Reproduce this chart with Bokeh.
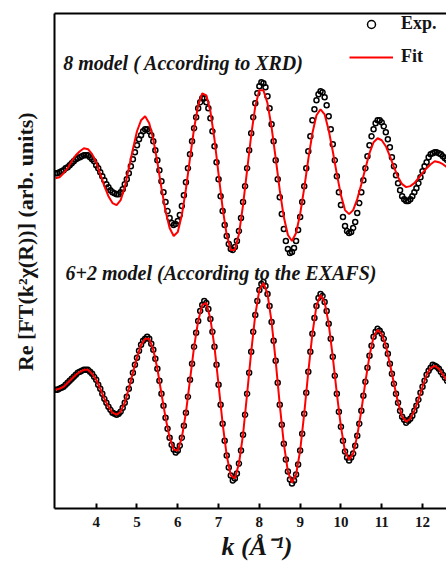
import numpy as np
from bokeh.plotting import figure
from bokeh.models import Label, LinearAxis, Legend, LegendItem, Range1d, FixedTicker
from bokeh.embed import file_html
from bokeh.resources import INLINE

# ---- data (k from 3.0 to 12.6 Å^-1) ----
# upper panel: "8 model (According to XRD)"  (Exp. sampled every 0.05, Fit every 0.1)
exp_8 = [3.36, 3.36, 3.37, 3.38, 3.39, 3.41, 3.42, 3.44, 3.46, 3.48, 3.50, 3.51, 3.52, 3.53, 3.54,
         3.54, 3.54, 3.52, 3.50, 3.48, 3.44, 3.41, 3.37, 3.33, 3.29, 3.25, 3.22, 3.19, 3.17, 3.16, 3.15,
         3.15, 3.17, 3.20, 3.25, 3.30, 3.36, 3.43, 3.50, 3.57, 3.64, 3.70, 3.74, 3.78, 3.80,
         3.80, 3.78, 3.74, 3.68, 3.59, 3.49, 3.39, 3.28, 3.17, 3.07, 2.98, 2.91, 2.86, 2.84,
         2.85, 2.88, 2.94, 3.03, 3.14, 3.27, 3.41, 3.55, 3.68, 3.81, 3.92, 4.01, 4.07, 4.11,
         4.11, 4.07, 4.01, 3.91, 3.78, 3.63, 3.47, 3.30, 3.13, 2.98, 2.84, 2.73, 2.65, 2.60,
         2.59, 2.62, 2.68, 2.78, 2.91, 3.07, 3.23, 3.41, 3.59, 3.76, 3.92, 4.06, 4.16, 4.23, 4.27,
         4.26, 4.22, 4.13, 4.01, 3.85, 3.68, 3.49, 3.30, 3.12, 2.95, 2.80, 2.68, 2.60, 2.56,
         2.57, 2.61, 2.68, 2.79, 2.92, 3.07, 3.23, 3.41, 3.58, 3.73, 3.89, 4.00, 4.09, 4.15, 4.18,
         4.17, 4.12, 4.04, 3.93, 3.80, 3.65, 3.49, 3.33, 3.17, 3.04, 2.92, 2.83, 2.78, 2.76,
         2.77, 2.81, 2.87, 2.96, 3.06, 3.17, 3.29, 3.41, 3.53, 3.64, 3.73, 3.80, 3.86, 3.89,
         3.89, 3.87, 3.83, 3.77, 3.70, 3.62, 3.52, 3.43, 3.34, 3.26, 3.19, 3.13, 3.10, 3.08,
         3.08, 3.10, 3.13, 3.17, 3.21, 3.26, 3.32, 3.38, 3.43, 3.47, 3.52, 3.55, 3.56, 3.57,
         3.57, 3.56, 3.55, 3.53, 3.51, 3.49]

fit_8 = [3.31, 3.32, 3.36, 3.41, 3.48, 3.54, 3.58, 3.61,
         3.60, 3.55, 3.47, 3.35, 3.23, 3.13, 3.06,
         3.04, 3.09, 3.22, 3.41, 3.60, 3.78, 3.89,
         3.93, 3.86, 3.70, 3.47, 3.21, 2.98, 2.81, 2.73,
         2.77, 2.94, 3.20, 3.51, 3.81, 4.04, 4.16,
         4.14, 3.98, 3.70, 3.35, 3.01, 2.74, 2.59,
         2.59, 2.75, 3.04, 3.39, 3.74, 4.03, 4.19,
         4.19, 4.06, 3.82, 3.51, 3.19, 2.92, 2.74,
         2.68, 2.76, 2.95, 3.21, 3.50, 3.76, 3.94, 4.00,
         3.95, 3.79, 3.58, 3.35, 3.14, 2.99,
         2.95, 2.99, 3.10, 3.25, 3.41, 3.56, 3.67, 3.71,
         3.69, 3.63, 3.53, 3.42, 3.32, 3.25, 3.22,
         3.23, 3.26, 3.31, 3.36, 3.41, 3.45, 3.48,
         3.47, 3.45, 3.42]

# lower panel: "6+2 model (According to the EXAFS)"
exp_62 = [1.19, 1.19, 1.20, 1.21, 1.22, 1.24, 1.26, 1.28, 1.30, 1.32, 1.34, 1.36, 1.37, 1.38, 1.39, 1.39,
          1.39, 1.37, 1.35, 1.32, 1.29, 1.24, 1.20, 1.15, 1.10, 1.06, 1.02, 0.99, 0.96, 0.95, 0.94,
          0.95, 0.97, 1.01, 1.06, 1.12, 1.20, 1.28, 1.36, 1.44, 1.51, 1.58, 1.64, 1.68, 1.70, 1.72,
          1.70, 1.65, 1.59, 1.50, 1.40, 1.28, 1.15, 1.03, 0.91, 0.80, 0.71, 0.64, 0.59, 0.56,
          0.58, 0.63, 0.71, 0.83, 0.96, 1.12, 1.29, 1.45, 1.62, 1.76, 1.88, 1.98, 2.04, 2.08,
          2.06, 2.00, 1.90, 1.77, 1.62, 1.44, 1.24, 1.04, 0.85, 0.68, 0.53, 0.41, 0.33, 0.28,
          0.30, 0.35, 0.45, 0.58, 0.74, 0.94, 1.15, 1.36, 1.57, 1.77, 1.94, 2.08, 2.19, 2.25,
          2.27, 2.23, 2.15, 2.03, 1.87, 1.68, 1.48, 1.26, 1.04, 0.84, 0.65, 0.49, 0.37, 0.29, 0.25,
          0.28, 0.34, 0.44, 0.58, 0.75, 0.95, 1.16, 1.37, 1.57, 1.75, 1.91, 2.03, 2.11, 2.15,
          2.13, 2.07, 1.98, 1.85, 1.70, 1.52, 1.33, 1.15, 0.97, 0.82, 0.68, 0.57, 0.51, 0.48,
          0.51, 0.55, 0.63, 0.73, 0.85, 0.98, 1.13, 1.27, 1.41, 1.53, 1.63, 1.72, 1.77, 1.80,
          1.78, 1.75, 1.70, 1.63, 1.55, 1.45, 1.35, 1.25, 1.15, 1.06, 0.98, 0.92, 0.89, 0.86,
          0.88, 0.90, 0.93, 0.98, 1.03, 1.09, 1.16, 1.22, 1.28, 1.34, 1.38, 1.41, 1.44,
          1.43, 1.42, 1.40, 1.37, 1.34, 1.31, 1.28]

fit_62 = [1.19, 1.20, 1.22, 1.26, 1.30, 1.34, 1.37, 1.39, 1.39, 1.35,
          1.29, 1.20, 1.10, 1.02, 0.96, 0.94, 0.97, 1.06, 1.20, 1.36,
          1.51, 1.64, 1.70, 1.70, 1.59, 1.40, 1.15, 0.91, 0.71, 0.59,
          0.58, 0.71, 0.96, 1.29, 1.62, 1.88, 2.04, 2.06, 1.90, 1.62,
          1.24, 0.85, 0.53, 0.33, 0.30, 0.45, 0.74, 1.15, 1.57, 1.94,
          2.19, 2.26, 2.15, 1.87, 1.48, 1.04, 0.65, 0.37, 0.26, 0.34,
          0.58, 0.95, 1.37, 1.75, 2.03, 2.14, 2.07, 1.85, 1.52, 1.15,
          0.82, 0.57, 0.49, 0.55, 0.73, 0.98, 1.27, 1.53, 1.72, 1.79,
          1.75, 1.63, 1.45, 1.25, 1.06, 0.92, 0.87, 0.90, 0.98, 1.09,
          1.22, 1.34, 1.41, 1.43, 1.40, 1.34, 1.28]

k_ticks = [4, 5, 6, 7, 8, 9, 10, 11, 12]

# sampling grids of k (Å^-1)
k_exp_8 = np.round(np.linspace(3.0, 12.6, len(exp_8)), 3)
k_fit_8 = np.round(np.linspace(3.0, 12.6, len(fit_8)), 3)
k_exp_62 = np.round(np.linspace(3.0, 12.6, len(exp_62)), 3)
k_fit_62 = np.round(np.linspace(3.0, 12.6, len(fit_62)), 3)

FONT = "Liberation Serif"
RED = "#ff0000"
TXT = "#141414"
NB = "\u00a0"

p = figure(width=446, height=563, output_backend="svg", toolbar_location=None,
           x_range=Range1d(2.978, 12.588), y_range=Range1d(0, 4.96),
           min_border_left=54, min_border_right=0, min_border_top=13, min_border_bottom=54)
p.outline_line_color = None
p.grid.visible = False
p.background_fill_color = "white"

# experimental markers, then fit lines on top
r_exp8 = p.scatter(k_exp_8, exp_8, marker="circle", size=5, fill_color=None,
                   line_color="black", line_width=1.5)
r_exp62 = p.scatter(k_exp_62, exp_62, marker="circle", size=5, fill_color=None,
                    line_color="black", line_width=1.5)
r_fit8 = p.line(k_fit_8, fit_8, line_color=RED, line_width=2)
r_fit62 = p.line(k_fit_62, fit_62, line_color=RED, line_width=2)

# bottom axis
xa = p.xaxis[0]
xa.ticker = FixedTicker(ticks=k_ticks)
xa.axis_line_width = 2
xa.major_tick_in = 5
xa.major_tick_out = 0
xa.major_tick_line_width = 2
xa.minor_tick_line_color = None
xa.major_label_text_font = FONT
xa.major_label_text_font_style = "bold"
xa.major_label_text_font_size = "15px"
xa.major_label_text_color = TXT
xa.major_label_standoff = 8
xa.axis_label = NB * 2 + "k (\u00c5\u207b\u00b9)"
xa.axis_label_text_font = FONT
xa.axis_label_text_font_style = "bold italic"
xa.axis_label_text_font_size = "26px"
xa.axis_label_text_color = TXT
xa.axis_label_standoff = 2

# left axis: line and title only
ya = p.yaxis[0]
ya.ticker = FixedTicker(ticks=[])
ya.axis_line_width = 2
ya.major_tick_line_color = None
ya.minor_tick_line_color = None
ya.major_label_standoff = 0
ya.axis_label = NB * 7 + "Re [FT(k\u00b2\u03c7(R))] (arb. units)"
ya.axis_label_text_font = FONT
ya.axis_label_text_font_style = "bold"
ya.axis_label_text_font_size = "22px"
ya.axis_label_text_color = TXT
ya.axis_label_standoff = 17

# top frame line
top = LinearAxis(ticker=FixedTicker(ticks=[]), axis_line_width=2, major_tick_line_color=None,
                 minor_tick_line_color=None, major_label_standoff=0,
                 major_tick_in=0, major_tick_out=0)
p.add_layout(top, "above")

# legend
legend = Legend(items=[LegendItem(label="Exp.", renderers=[r_exp8]),
                       LegendItem(label="Fit", renderers=[r_fit8])],
                location="top_right", border_line_color=None, background_fill_alpha=0,
                label_text_font=FONT, label_text_font_style="bold", label_text_font_size="18px",
                label_text_color=TXT, glyph_width=44, glyph_height=20, label_height=20,
                label_width=45, label_standoff=8, spacing=12, padding=2, margin=0)
p.add_layout(legend)

# panel annotations
p.add_layout(Label(x=3.19, y=4.46, text="8 model ( According to XRD)", text_font=FONT,
                   text_font_style="bold italic", text_font_size="20px", text_color=TXT,
                   text_baseline="middle"))
p.add_layout(Label(x=3.25, y=2.36, text="6+2 model (According to the EXAFS)", text_font=FONT,
                   text_font_style="bold italic", text_font_size="20px", text_color=TXT,
                   text_baseline="middle"))

open("out.html", "w").write(file_html(p, INLINE))
